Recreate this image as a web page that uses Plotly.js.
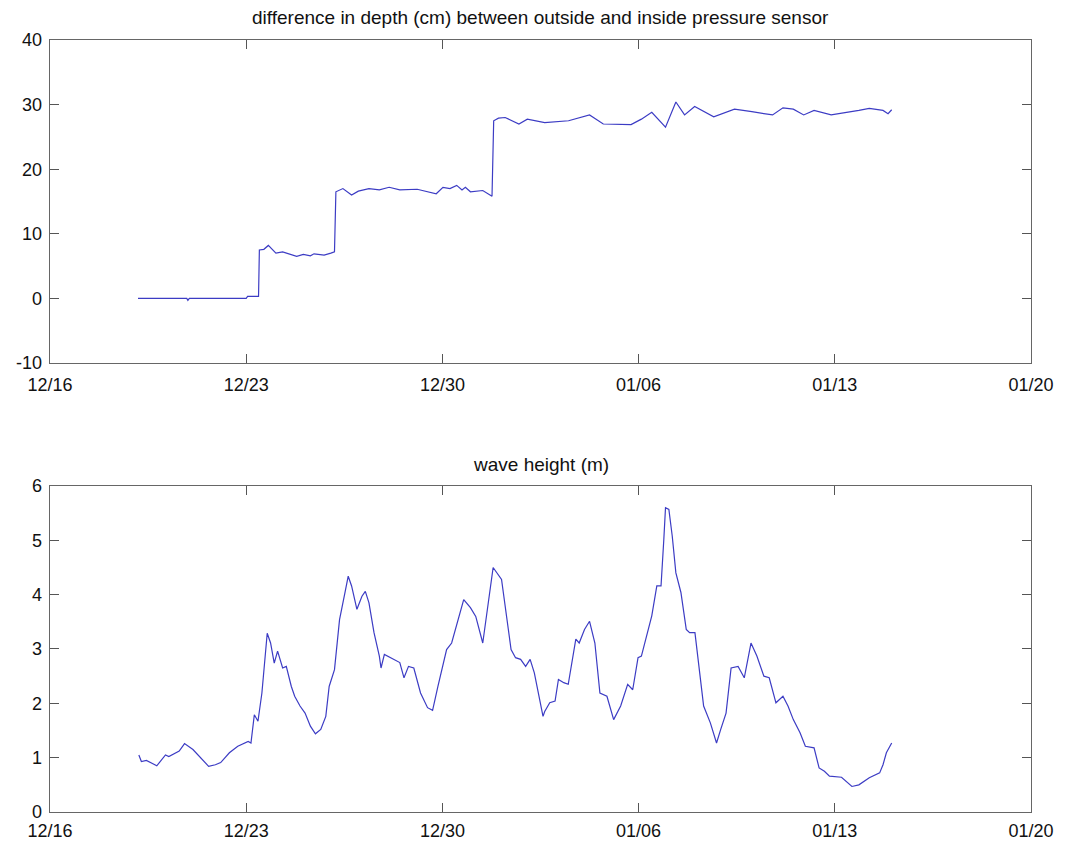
<!DOCTYPE html>
<html>
<head>
<meta charset="utf-8">
<script src="https://cdn.plot.ly/plotly-3.0.1.min.js"></script>
<style>
  html, body { margin: 0; padding: 0; background: #ffffff; }
  #chart { width: 1067px; height: 841px; }
</style>
</head>
<body>
<div id="chart"></div>
<script>
// ---- data (days after 12/16) ----
const startDate = '2001-12-16';
const tickDays = [0, 7, 14, 21, 28, 35];
const tickLabels = ['12/16', '12/23', '12/30', '01/06', '01/13', '01/20'];
const depthTickVals = [-10, 0, 10, 20, 30, 40];
const depthTickLabels = ['-10', '0', '10', '20', '30', '40'];
const waveTickVals = [0, 1, 2, 3, 4, 5, 6];
const waveTickLabels = ['0', '1', '2', '3', '4', '5', '6'];

const depthTitle = 'difference in depth (cm) between outside and inside pressure sensor';
const depthDays = [3.14, 3.8, 4.5, 4.88, 4.92, 4.97, 5.5, 6.2, 7.0, 7.05, 7.44, 7.47, 7.63, 7.79, 8.06, 8.3, 8.55, 8.8, 9.04, 9.29, 9.42, 9.78, 10.02, 10.15, 10.2, 10.33, 10.45, 10.76, 11.0, 11.38, 11.75, 12.1, 12.48, 13.1, 13.47, 13.78, 14.02, 14.27, 14.51, 14.7, 14.82, 15.0, 15.44, 15.77, 15.83, 16.0, 16.24, 16.73, 17.03, 17.65, 18.5, 19.25, 19.74, 20.73, 21.1, 21.47, 21.96, 22.33, 22.64, 23.0, 23.68, 24.42, 25.04, 25.78, 26.15, 26.52, 26.89, 27.26, 27.87, 28.36, 28.86, 29.23, 29.72, 29.9, 30.03];
const depthCm = [0.0, 0.0, 0.0, 0.0, -0.3, 0.0, 0.0, 0.0, 0.0, 0.3, 0.3, 7.5, 7.6, 8.2, 7.0, 7.2, 6.8, 6.5, 6.8, 6.6, 6.9, 6.7, 7.0, 7.2, 16.5, 16.8, 17.0, 16.0, 16.6, 17.0, 16.8, 17.2, 16.8, 16.9, 16.5, 16.2, 17.2, 17.0, 17.5, 16.8, 17.2, 16.5, 16.7, 15.8, 27.5, 27.9, 28.0, 27.0, 27.75, 27.2, 27.5, 28.4, 27.0, 26.9, 27.75, 28.8, 26.5, 30.4, 28.4, 29.7, 28.1, 29.3, 28.9, 28.4, 29.5, 29.3, 28.4, 29.1, 28.4, 28.7, 29.1, 29.4, 29.1, 28.6, 29.2];

const waveTitle = 'wave height (m)';
const waveDays = [3.17, 3.26, 3.44, 3.81, 4.12, 4.24, 4.61, 4.80, 5.10, 5.35, 5.66, 5.90, 6.09, 6.40, 6.70, 7.07, 7.17, 7.29, 7.42, 7.56, 7.75, 7.87, 8.0, 8.12, 8.30, 8.43, 8.61, 8.73, 8.92, 9.10, 9.29, 9.47, 9.66, 9.84, 9.96, 10.15, 10.33, 10.52, 10.64, 10.76, 10.95, 11.13, 11.25, 11.38, 11.56, 11.75, 11.81, 11.93, 12.24, 12.48, 12.63, 12.79, 12.98, 13.22, 13.47, 13.65, 13.84, 14.02, 14.15, 14.33, 14.58, 14.76, 15.0, 15.19, 15.44, 15.62, 15.81, 16.11, 16.36, 16.45, 16.61, 16.79, 16.97, 17.13, 17.28, 17.47, 17.59, 17.65, 17.83, 18.02, 18.14, 18.33, 18.49, 18.76, 18.88, 19.07, 19.25, 19.44, 19.62, 19.87, 20.11, 20.36, 20.61, 20.79, 20.98, 21.10, 21.28, 21.47, 21.65, 21.80, 21.90, 21.96, 22.08, 22.20, 22.33, 22.51, 22.70, 22.82, 23.01, 23.19, 23.32, 23.56, 23.78, 23.93, 24.12, 24.30, 24.55, 24.77, 25.01, 25.22, 25.47, 25.66, 25.90, 26.15, 26.33, 26.52, 26.76, 26.95, 27.26, 27.44, 27.63, 27.81, 28.24, 28.61, 28.86, 29.23, 29.60, 29.72, 29.84, 30.03];
const waveM = [1.05, 0.93, 0.95, 0.85, 1.05, 1.02, 1.12, 1.26, 1.15, 1.02, 0.84, 0.87, 0.91, 1.09, 1.21, 1.30, 1.27, 1.79, 1.67, 2.19, 3.29, 3.11, 2.74, 2.96, 2.65, 2.68, 2.31, 2.13, 1.95, 1.82, 1.58, 1.44, 1.52, 1.76, 2.31, 2.62, 3.54, 4.03, 4.34, 4.16, 3.73, 3.97, 4.06, 3.85, 3.30, 2.87, 2.65, 2.90, 2.81, 2.75, 2.47, 2.68, 2.65, 2.19, 1.92, 1.87, 2.31, 2.68, 2.99, 3.11, 3.60, 3.91, 3.76, 3.60, 3.11, 3.79, 4.50, 4.28, 3.36, 2.99, 2.84, 2.81, 2.68, 2.81, 2.56, 2.07, 1.76, 1.85, 2.01, 2.04, 2.44, 2.38, 2.35, 3.18, 3.11, 3.36, 3.51, 3.11, 2.19, 2.13, 1.70, 1.95, 2.35, 2.25, 2.84, 2.87, 3.24, 3.61, 4.16, 4.16, 5.02, 5.60, 5.57, 5.08, 4.40, 4.04, 3.36, 3.30, 3.30, 2.56, 1.95, 1.64, 1.27, 1.52, 1.82, 2.65, 2.68, 2.47, 3.11, 2.87, 2.50, 2.47, 2.01, 2.13, 1.95, 1.70, 1.46, 1.21, 1.18, 0.81, 0.75, 0.66, 0.64, 0.47, 0.50, 0.63, 0.72, 0.87, 1.09, 1.27];

// ---- helpers ----
const base = new Date(startDate + 'T00:00:00Z').getTime();
function toDate(d) {
  const t = new Date(base + d * 86400000);
  return t.toISOString().slice(0, 19).replace('T', ' ');
}
const tickVals = tickDays.map(toDate);

const FONT = 'Liberation Sans, Arial, Helvetica, sans-serif';
const lineStyle = { color: '#3c3cc4', width: 1.2 };
const tickFont = { family: FONT, size: 18, color: '#111' };

function xAxis(anchor, standoff) {
  return {
    type: 'date', anchor: anchor,
    range: [toDate(0), toDate(35)],
    tickmode: 'array', tickvals: tickVals, ticktext: tickLabels,
    ticks: 'inside', ticklen: 9, tickwidth: 1, tickcolor: '#555',
    showline: true, linecolor: '#666', linewidth: 1.3, mirror: 'ticks',
    showgrid: false, zeroline: false,
    tickfont: tickFont, ticklabelstandoff: standoff
  };
}
function yAxis(anchor, domain, range, vals, labels) {
  return {
    anchor: anchor, domain: domain, range: range,
    tickmode: 'array', tickvals: vals, ticktext: labels,
    ticks: 'inside', ticklen: 9, tickwidth: 1, tickcolor: '#555',
    showline: true, linecolor: '#666', linewidth: 1.3, mirror: 'ticks',
    showgrid: false, zeroline: false,
    tickfont: tickFont, ticklabelstandoff: 3
  };
}

const traces = [
  { x: depthDays.map(toDate), y: depthCm, type: 'scatter', mode: 'lines',
    line: lineStyle, xaxis: 'x', yaxis: 'y', hoverinfo: 'x+y' },
  { x: waveDays.map(toDate), y: waveM, type: 'scatter', mode: 'lines',
    line: lineStyle, xaxis: 'x2', yaxis: 'y2', hoverinfo: 'x+y' }
];

const layout = {
  width: 1067, height: 841,
  margin: { l: 50, r: 36, t: 40, b: 29 },
  paper_bgcolor: '#ffffff', plot_bgcolor: '#ffffff',
  showlegend: false,
  xaxis: xAxis('y', 5),
  yaxis: yAxis('x', [0.5816, 1], [-10, 40], depthTickVals, depthTickLabels),
  xaxis2: xAxis('y2', 2),
  yaxis2: yAxis('x2', [0, 0.4223], [0, 6], waveTickVals, waveTickLabels),
  annotations: [
    { text: depthTitle, xref: 'paper', yref: 'paper', x: 0.5, y: 1,
      xanchor: 'center', yanchor: 'middle', yshift: 23, showarrow: false,
      font: { family: FONT, size: 19, color: '#111' } },
    { text: waveTitle, xref: 'paper', yref: 'paper', x: 0.5, y: 0.4223,
      xanchor: 'center', yanchor: 'middle', yshift: 21, showarrow: false,
      font: { family: FONT, size: 19, color: '#111' } }
  ]
};

Plotly.newPlot('chart', traces, layout, { displayModeBar: false, staticPlot: true });
</script>
</body>
</html>
